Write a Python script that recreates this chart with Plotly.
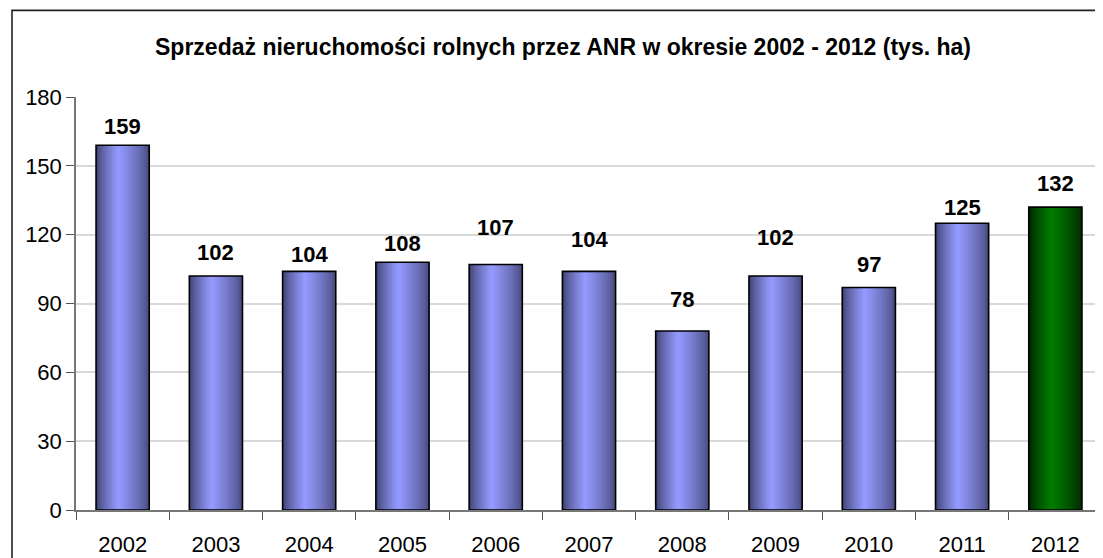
import plotly.graph_objects as go

years = ["2002", "2003", "2004", "2005", "2006", "2007", "2008", "2009", "2010", "2011", "2012"]
values = [159, 102, 104, 108, 107, 104, 78, 102, 97, 125, 132]
highlight = [False] * 10 + [True]
label_shift = [19, 23, 17, 19, 37, 32, 32, 38, 23, 16, 24]  # px above bar top
y_ticks = [0, 30, 60, 90, 120, 150, 180]

# page body has an 8px margin, so the figure starts 8px in
W, H = 1095, 550
ML, MR, MT, MB = 68, 1, 89, 46
pw, ph = W - ML - MR, H - MT - MB

BAR_W = 0.57
N = 30


def lerp(c1, c2, f):
    return tuple(int(round(a + (b - a) * f)) for a, b in zip(c1, c2))


def shade(t, dark_l, dark_r, light):
    peak = 0.42
    if t < peak:
        f = (t / peak) ** 0.75
        return lerp(dark_l, light, f)
    f = ((1 - t) / (1 - peak)) ** 0.75
    return lerp(dark_r, light, f)


blue = ((0x3a, 0x3d, 0x68), (0x45, 0x48, 0x78), (0x95, 0x9b, 0xff))
green = ((0x00, 0x20, 0x00), (0x00, 0x26, 0x00), (0x00, 0x7c, 0x00))

xi = list(range(len(years)))
fig = go.Figure()
sw = BAR_W / N
for i in range(N):
    t = (i + 0.5) / N
    cols = []
    for h in highlight:
        pal = green if h else blue
        cols.append("rgb(%d,%d,%d)" % shade(t, *pal))
    fig.add_trace(go.Bar(
        x=xi, y=values,
        offset=-BAR_W / 2 + i * sw, width=BAR_W - i * sw,
        marker=dict(color=cols, line=dict(width=0)),
        hoverinfo="skip", showlegend=False,
    ))

fig.add_trace(go.Bar(
    x=xi, y=values, offset=-BAR_W / 2, width=BAR_W,
    marker=dict(color="rgba(0,0,0,0)", line=dict(color="#000000", width=1.6)),
    showlegend=False,
))

for i, (v, s) in enumerate(zip(values, label_shift)):
    fig.add_annotation(x=i, y=v, text="<b>%d</b>" % v, showarrow=False,
                       yanchor="middle", yshift=s,
                       font=dict(family="Liberation Sans, Arial", size=22, color="#000000"))

fx0 = (4 - ML) / pw
fy1 = (H - MB - 2) / ph
fig.add_shape(type="path", xref="paper", yref="paper",
              path="M %f %f L %f %f L %f %f" % (fx0, -0.2, fx0, fy1, 1.05, fy1),
              line=dict(color="#222222", width=1.6))

fig.update_layout(
    width=W, height=H,
    margin=dict(l=ML, r=MR, t=MT, b=MB),
    barmode="overlay",
    plot_bgcolor="white", paper_bgcolor="white",
    title=dict(text="<b>Sprzedaż nieruchomości rolnych przez ANR w okresie 2002 - 2012 (tys. ha)</b>",
               x=(563 - 8) / W, xanchor="center", y=1 - 39 / H, yanchor="middle",
               font=dict(family="Liberation Sans, Arial", size=23, color="#000000")),
    font=dict(family="Liberation Sans, Arial", color="#000000"),
)
fig.update_xaxes(tickmode="array", tickvals=xi, ticktext=years,
                 ticks="", showline=True, linecolor="#777777", linewidth=1.5,
                 showgrid=False, tickfont=dict(size=22, color="#000000"),
                 ticklabelstandoff=14,
                 range=[-0.5, len(years) - 0.5])
# boundary tick marks as minor ticks
fig.update_xaxes(minor=dict(tickmode="array", tickvals=[k - 0.5 for k in range(len(years) + 1)],
                            ticks="outside", ticklen=8, tickcolor="#555555", showgrid=False))
fig.update_yaxes(range=[0, 180], tickvals=y_ticks, ticks="outside", ticklen=8,
                 tickcolor="#555555", showline=True, linecolor="#777777", linewidth=1.5,
                 showgrid=True, gridcolor="#d9d9d9", gridwidth=1.5, zeroline=False,
                 tickfont=dict(size=22, color="#000000"))

fig.write_html("out.html")
